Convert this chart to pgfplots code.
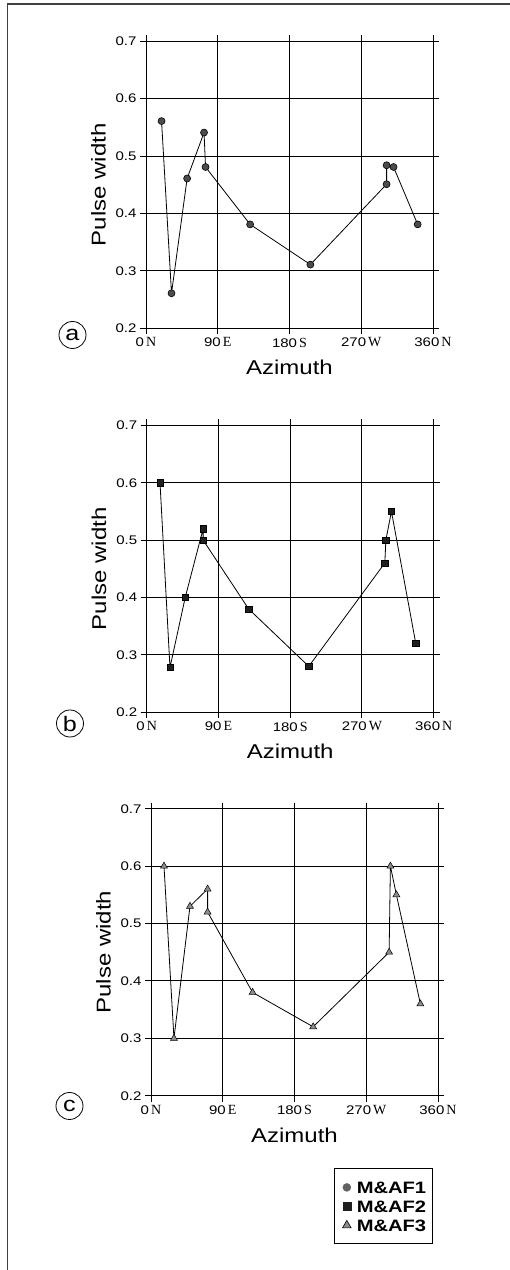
\documentclass[border=0pt]{standalone}
\usepackage{fontspec}
\setmainfont{Liberation Sans}[FakeStretch=1.2]
\newfontfamily\serifw{Liberation Serif}
\newfontfamily\legfont{Liberation Sans}
\usepackage{graphicx}
\usepackage{pgfplots}
\pgfplotsset{compat=1.18}
\newcommand{\xl}[2]{#1\,{\serifw\fontsize{14}{15}\selectfont #2}}
\newcommand{\legtxt}[1]{\scalebox{1.22}[1]{#1}}
\pgfplotsset{
  myax/.style={
    scale only axis, width=287pt, height=287pt,
    xmin=0, xmax=360, ymin=0.2, ymax=0.7,
    xtick={0,90,180,270,360},
    xticklabels={\xl{0}{N},\xl{90}{E},\xl{180}{S},\xl{270}{W},\xl{360}{N}},
    ytick={0.2,0.3,0.4,0.5,0.6,0.7},
    yticklabels={0.2,0.3,0.4,0.5,0.6,0.7},
    grid=major, grid style={black, line width=0.9pt},
    axis line style={black, line width=0.9pt},
    tick style={black, line width=0.9pt},
    tick align=outside, major tick length=6pt,
    ticklabel style={font=\fontsize{12.5}{14}\selectfont},
    xlabel={Azimuth}, ylabel={Pulse width},
    label style={font=\fontsize{20}{24}\selectfont},
    xlabel style={at={(axis description cs:0.5,-0.137)}, anchor=center},
    ylabel style={at={(axis description cs:-0.166,0.5)}, anchor=center},
  },
  dline/.style={black, line width=0.8pt},
}
\begin{document}
\begin{tikzpicture}[x=1pt,y=1pt]
\useasboundingbox (0,0) rectangle (510,1270);
\draw[black!75, line width=1.2pt] (7.3,0) -- (7.3,1266) -- (510,1266);

% panel a
\begin{axis}[myax, at={(146pt,941.7pt)}, anchor=south west]
\addplot[dline, mark=*, mark size=3.5pt, mark options={fill=black!70, draw=black, line width=0.6pt}]
coordinates {(19.5,0.561) (32,0.261) (51.6,0.461) (72.8,0.541) (74.7,0.481) (130.6,0.381) (206.2,0.311) (301.8,0.451) (301.8,0.484) (310.5,0.481) (340.8,0.381)};
\end{axis}

% panel b
\begin{axis}[myax, at={(146.7pt,557.7pt)}, anchor=south west]
\addplot[dline, mark=square*, mark size=3.2pt, mark options={fill=black!88, draw=black, line width=0.5pt}]
coordinates {(16.7,0.6) (29.2,0.278) (48.3,0.4) (70.8,0.52) (70.8,0.5) (127.9,0.38) (203.3,0.28) (298.7,0.46) (300,0.5) (307,0.55) (337.5,0.32)};
\end{axis}

% panel c
\begin{axis}[myax, at={(151pt,174.3pt)}, anchor=south west,
  legend image code/.code={\path[draw=none,fill=none] (-3pt,-5pt) rectangle (13pt,5pt); \draw[#1] plot coordinates {(5pt,0pt)};},
  legend style={at={(0.6405,-0.255)}, anchor=north west, draw=black, line width=1pt,
    font=\legfont\bfseries\fontsize{16.5}{19}\selectfont, inner xsep=4pt, inner ysep=9pt,
    row sep=0pt, outer sep=0pt,
    nodes={inner ysep=3.5pt, inner xsep=2pt, text height=12pt, text depth=0pt}},
  legend cell align=left]
\addplot[dline, forget plot, mark=triangle*, mark size=4pt, mark options={fill=black!45, draw=black, line width=0.5pt}]
coordinates {(16.3,0.6) (28.8,0.3) (48.9,0.53) (71,0.56) (71,0.52) (127.4,0.38) (203.4,0.32) (298.7,0.45) (300.3,0.6) (307.8,0.55) (337.9,0.36)};
\addlegendimage{only marks, mark=*, mark size=4pt, mark options={fill=black!62, draw=black!62, line width=0.4pt}}
\addlegendimage{only marks, mark=square*, mark size=4pt, mark options={fill=black!88, draw=black!88, line width=0.4pt}}
\addlegendimage{only marks, mark=triangle*, mark size=5pt, mark options={fill=black!45, draw=black, line width=0.6pt}}
\legend{\legtxt{M\&AF1}, \legtxt{M\&AF2}, \legtxt{M\&AF3}}
\end{axis}

\node[draw, circle, line width=0.8pt, minimum size=27pt, inner sep=0pt, font=\fontsize{21}{21}\selectfont] at (72.5,935) {a};
\node[draw, circle, line width=0.8pt, minimum size=27pt, inner sep=0pt, font=\fontsize{21}{21}\selectfont] at (70,546.5) {b};
\node[draw, circle, line width=0.8pt, minimum size=27pt, inner sep=0pt, font=\fontsize{21}{21}\selectfont] at (69.5,164) {c};
\end{tikzpicture}
\end{document}
